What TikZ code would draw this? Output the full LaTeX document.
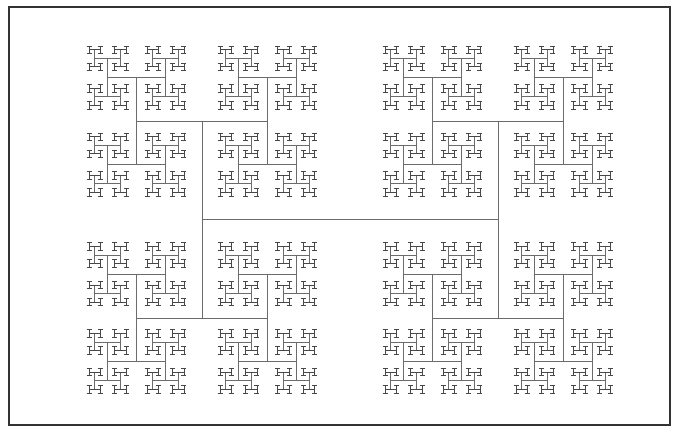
\documentclass[tikz,border=0pt]{standalone}
\tikzset{
  treeline/.style={draw=black!58, line width=0.75pt},
  glyphline/.style={draw=black!72, line width=0.9pt},
  frameline/.style={draw=black!80, line width=1.8pt}
}
\newcommand\hRatio{0.665}
\newcommand\hStyle[1]{\ifnum#1<3 glyphline\else treeline\fi}
\newcommand\hHor[4]{%
  \ifnum#4<3
    \draw[glyphline] ({#1-#3},#2) -- ({#1+#3},#2);%
  \else
    \draw[treeline] ({#1-#3},#2) -- ({#1+#3},#2);%
  \fi
  \ifnum#4>0
    \begingroup
      \pgfmathsetmacro\hNl{#3*\hRatio}%
      \pgfmathsetmacro\hXa{#1-#3}%
      \pgfmathsetmacro\hXb{#1+#3}%
      \pgfmathtruncatemacro\hNk{#4-1}%
      \edef\hNext{\noexpand\hVer{\hXa}{#2}{\hNl}{\hNk}\noexpand\hVer{\hXb}{#2}{\hNl}{\hNk}}%
      \hNext
    \endgroup
  \fi
}
\newcommand\hVer[4]{%
  \ifnum#4<3
    \draw[glyphline] (#1,{#2-#3}) -- (#1,{#2+#3});%
  \else
    \draw[treeline] (#1,{#2-#3}) -- (#1,{#2+#3});%
  \fi
  \ifnum#4>0
    \begingroup
      \pgfmathsetmacro\hNl{#3*\hRatio}%
      \pgfmathsetmacro\hYa{#2-#3}%
      \pgfmathsetmacro\hYb{#2+#3}%
      \pgfmathtruncatemacro\hNk{#4-1}%
      \edef\hNext{\noexpand\hHor{#1}{\hYa}{\hNl}{\hNk}\noexpand\hHor{#1}{\hYb}{\hNl}{\hNk}}%
      \hNext
    \endgroup
  \fi
}
\begin{document}
\begin{tikzpicture}[x=1pt,y=-1pt]
  \useasboundingbox (0,0) rectangle (678,432);
  \fill[white] (0,0) rectangle (678,432);
  \draw[frameline] (9,7) rectangle (670,425);
  \hHor{350}{219.5}{148}{10}
\end{tikzpicture}
\end{document}
